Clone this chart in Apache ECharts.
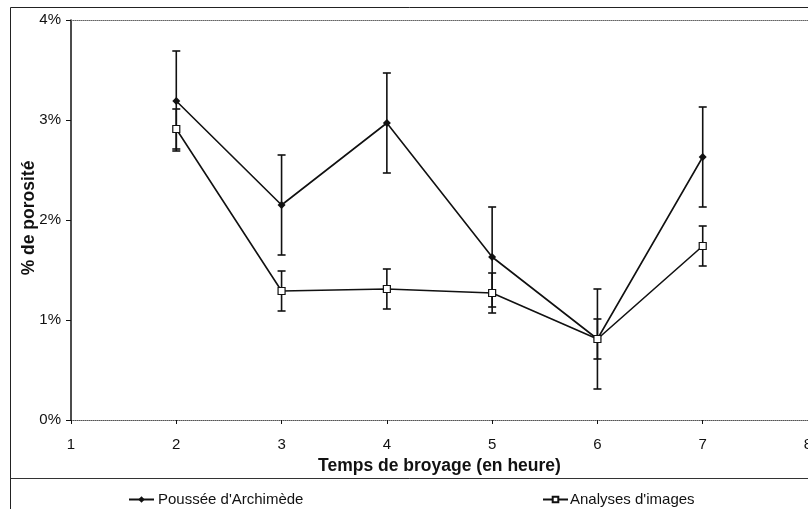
<!DOCTYPE html>
<html>
<head>
<meta charset="utf-8">
<script src="https://cdn.jsdelivr.net/npm/echarts@6/dist/echarts.min.js"></script>
<style>
  html, body { margin: 0; padding: 0; background: #fff; }
  #chart { width: 808px; height: 509px; }
</style>
</head>
<body>
<div id="chart"></div>
<script>
// heures de broyage
const hours = [2, 3, 4, 5, 6, 7]
// % de porosité, poussée d'Archimède
const archimede = [3.19, 2.15, 2.97, 1.63, 0.81, 2.63]
const archimedeErr = [0.5, 0.5, 0.5, 0.5, 0.5, 0.5]
// % de porosité, analyses d'images
const images = [2.91, 1.29, 1.31, 1.27, 0.81, 1.74]
const imagesErr = [0.2, 0.2, 0.2, 0.2, 0.2, 0.2]
const xTicks = [1, 2, 3, 4, 5, 6, 7, 8]
const yTicks = [0, 1, 2, 3, 4]

const font = "'Liberation Sans', Arial, sans-serif"

function pairs(values) {
  return hours.map((h, i) => [h, values[i]])
}
function bars(values, errs) {
  return hours.map((h, i) => [h, values[i] - errs[i], values[i] + errs[i]])
}

// barre d'erreur : trait vertical + deux petits traits horizontaux
function renderErr(params, api) {
  const lo = api.coord([api.value(0), api.value(1)])
  const hi = api.coord([api.value(0), api.value(2)])
  const w = 4
  const style = { stroke: '#111', lineWidth: 1.6 }
  return {
    type: 'group',
    children: [
      { type: 'line', shape: { x1: lo[0], y1: lo[1], x2: hi[0], y2: hi[1] }, style },
      { type: 'line', shape: { x1: lo[0] - w, y1: lo[1], x2: lo[0] + w, y2: lo[1] }, style },
      { type: 'line', shape: { x1: hi[0] - w, y1: hi[1], x2: hi[0] + w, y2: hi[1] }, style }
    ]
  }
}

const myChart = echarts.init(document.getElementById('chart'))
myChart.setOption({
  animation: false,
  textStyle: { fontFamily: font },
  grid: { left: 71, right: 0, top: 20, bottom: 89, outerBoundsMode: 'none', containLabel: false },
  graphic: [
    { type: 'line', shape: { x1: 10.5, y1: 7.5, x2: 808, y2: 7.5 }, style: { stroke: '#222', lineWidth: 1 } },
    { type: 'line', shape: { x1: 10.5, y1: 7.5, x2: 10.5, y2: 509 }, style: { stroke: '#222', lineWidth: 1 } },
    { type: 'line', shape: { x1: 10.5, y1: 478.5, x2: 808, y2: 478.5 }, style: { stroke: '#333', lineWidth: 1 } },
    // titre de l'axe vertical
    {
      type: 'text',
      x: 29,
      y: 218,
      rotation: Math.PI / 2,
      style: {
        text: '% de porosité',
        font: "bold 17.5px 'Liberation Sans', Arial, sans-serif",
        fill: '#111',
        align: 'center',
        verticalAlign: 'middle'
      }
    }
  ],
  legend: [
    {
      data: ["Poussée d'Archimède"],
      left: 123,
      top: 487,
      padding: 5,
      itemWidth: 25,
      itemHeight: 8,
      itemGap: 5,
      textStyle: { fontFamily: font, fontSize: 15, color: '#111', padding: [0, 0, 0, -1] }
    },
    {
      data: ["Analyses d'images"],
      left: 537,
      top: 487,
      padding: 5,
      itemWidth: 25,
      itemHeight: 7,
      itemGap: 5,
      textStyle: { fontFamily: font, fontSize: 15, color: '#111', padding: [0, 0, 0, -3] }
    }
  ],
  xAxis: [
    {
      type: 'value',
      min: xTicks[0],
      max: xTicks[xTicks.length - 1],
      interval: 1,
      name: 'Temps de broyage (en heure)',
      nameLocation: 'middle',
      nameGap: 34,
      nameTextStyle: { fontFamily: font, fontSize: 17.5, fontWeight: 'bold', color: '#111' },
      axisLine: { lineStyle: { color: '#555', type: 'dotted', width: 1 } },
      axisTick: { length: 4, lineStyle: { color: '#111' } },
      axisLabel: { fontSize: 15, color: '#111', margin: 17 },
      splitLine: { show: false }
    },
    {
      type: 'value',
      position: 'top',
      min: xTicks[0],
      max: xTicks[xTicks.length - 1],
      axisLine: { lineStyle: { color: '#666', type: 'dotted', width: 1 } },
      axisTick: { show: false },
      axisLabel: { show: false },
      splitLine: { show: false }
    }
  ],
  yAxis: {
    type: 'value',
    min: yTicks[0],
    max: yTicks[yTicks.length - 1],
    interval: 1,
    axisLine: { show: true, lineStyle: { color: '#111', width: 1.5 } },
    axisTick: { show: true, length: 5, lineStyle: { color: '#111' } },
    axisLabel: { fontSize: 15, color: '#111', margin: 10, formatter: '{value}%' },
    splitLine: { show: false }
  },
  series: [
    {
      name: 'errArchimede',
      type: 'custom',
      renderItem: renderErr,
      encode: { x: 0, y: [1, 2] },
      data: bars(archimede, archimedeErr),
      z: 2
    },
    {
      name: 'errImages',
      type: 'custom',
      renderItem: renderErr,
      encode: { x: 0, y: [1, 2] },
      data: bars(images, imagesErr),
      z: 2
    },
    {
      name: "Poussée d'Archimède",
      type: 'line',
      data: pairs(archimede),
      symbol: 'diamond',
      symbolSize: 8,
      lineStyle: { color: '#111', width: 1.6 },
      itemStyle: { color: '#111' },
      z: 3
    },
    {
      name: "Analyses d'images",
      type: 'line',
      data: pairs(images),
      symbol: 'rect',
      symbolSize: 7,
      lineStyle: { color: '#111', width: 1.6 },
      itemStyle: { color: '#fff', borderColor: '#111', borderWidth: 1.2 },
      z: 4
    }
  ]
})
window.onresize = function() {
  myChart.resize()
}
</script>
</body>
</html>
